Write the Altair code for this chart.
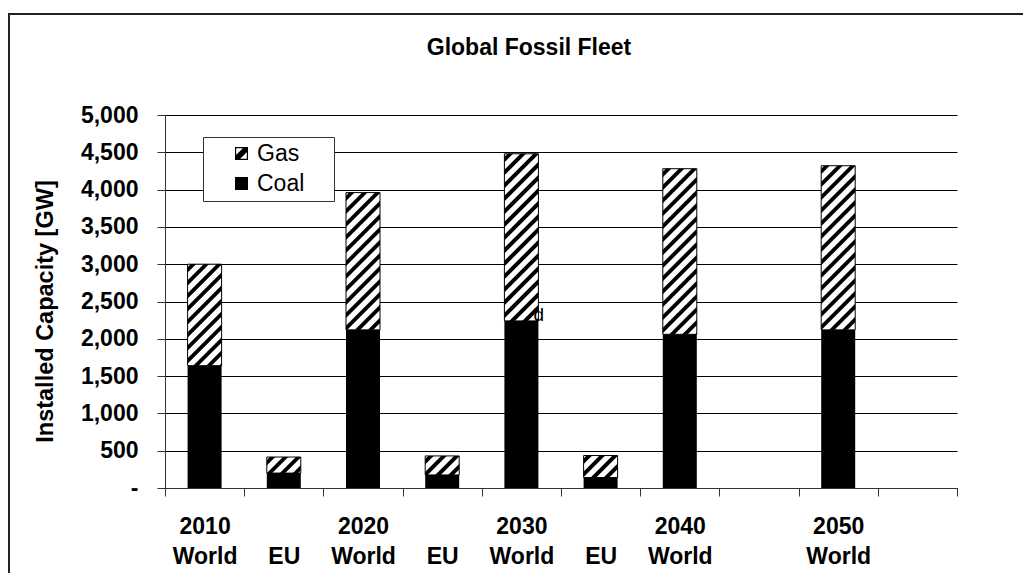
import json
import altair as alt
import pandas as pd

# ---------------- data ----------------
categories = ["2010 World", "2010 EU", "2020 World", "2020 EU", "2030 World",
              "2030 EU", "2040 World", "2040 EU", "2050 World", "2050 EU"]
label_year = ["2010", "", "2020", "", "2030", "", "2040", "", "2050", ""]
label_region = ["World", "EU", "World", "EU", "World", "EU", "World", "", "World", ""]
coal_gw = [1640, 200, 2120, 175, 2240, 140, 2060, None, 2120, None]
gas_gw = [1360, 215, 1840, 255, 2240, 295, 2220, None, 2200, None]
y_ticks = [0, 500, 1000, 1500, 2000, 2500, 3000, 3500, 4000, 4500, 5000]
series = ["Gas", "Coal"]
chart_title = "Global Fossil Fleet"
y_title = "Installed Capacity [GW]"
note_category = "2030 World"
note_text = "d"

# ---------------- layout / style ----------------
FONT = "Liberation Sans"
PLOT_W, PLOT_H = 792, 373
Y_MAX = 5000
BAR_W = 34
PAD = {"left": 157, "top": 107, "right": 66, "bottom": 85}

rows = []
for c, co, g in zip(categories, coal_gw, gas_gw):
    if co is None:
        continue
    rows.append({"cat": c, "coal": co, "gas": g, "total": co + g})
df = pd.DataFrame(rows)


def hatch_gradient(w, h, period=13.0, black=5.5, soft=0.7, phase=3.0):
    """Diagonal '/' stripes drawn as a linear gradient in bounding-box units."""
    L = w + h
    c = L / (w * w + h * h)

    def col_at(s):
        return "black" if ((s - phase) % period) < black else "white"

    stops = [(0.0, col_at(0.0))]
    a = phase
    while a < L:
        for pos, col in [(a - soft, "white"), (a + soft, "black"),
                         (a + black - soft, "black"), (a + black + soft, "white")]:
            if 0 < pos < L:
                stops.append((pos / L, col))
        a += period
    stops.append((1.0, col_at(L)))
    return alt.LinearGradient(
        gradient="linear",
        stops=[alt.GradientStop(color=col, offset=round(off, 5)) for off, col in stops],
        x1=0, y1=0, x2=round(c * w, 6), y2=round(c * h, 6),
    )


x_label_expr = "[{y}[indexof({c}, datum.value)], {r}[indexof({c}, datum.value)]]".format(
    y=json.dumps(label_year), r=json.dumps(label_region), c=json.dumps(categories))

x_axis = alt.Axis(
    title=None, labelExpr=x_label_expr, labelAngle=0, labelOverlap=False,
    labelFont=FONT, labelFontSize=23, labelFontWeight="bold", labelColor="black",
    labelLineHeight=30, labelPadding=19, tickSize=8, tickBand="extent",
    tickColor="#333", domainColor="#333", grid=False,
)
x_enc = alt.X("cat:N", sort=categories,
              scale=alt.Scale(domain=categories, paddingInner=0, paddingOuter=0),
              axis=x_axis)

y_axis = alt.Axis(
    values=y_ticks,
    labelExpr="datum.value == 0 ? '-' : format(datum.value, ',')",
    labelFont=FONT, labelFontSize=23, labelFontWeight="bold", labelColor="black",
    labelPadding=19, tickSize=8, tickColor="#333", domainColor="#333",
    grid=True, gridColor="black", gridWidth=1,
    title=y_title, titleFont=FONT, titleFontSize=23.5,
    titleFontWeight="bold", titleColor="black", titleAngle=270,
    titleAlign="center", titleBaseline="alphabetic", titleX=-113, titleY=196,
)
y_scale = alt.Scale(domain=[0, Y_MAX], nice=False, zero=True)


def y_enc(field):
    return alt.Y(field + ":Q", scale=y_scale, axis=y_axis)


layers = []

# coal segments
layers.append(
    alt.Chart(df).mark_bar(color="black", width=BAR_W).encode(
        x=x_enc, y=y_enc("coal"), y2=alt.datum(0)
    )
)

# gas segments (hatched), one layer per bar so each gets its own stripe geometry
for _, r in df.iterrows():
    h = r["gas"] / Y_MAX * PLOT_H
    layers.append(
        alt.Chart(df).transform_filter(alt.datum.cat == r["cat"]).mark_bar(
            fill=hatch_gradient(BAR_W, h), stroke="black", strokeWidth=1, width=BAR_W
        ).encode(x=x_enc, y=y_enc("total"), y2="coal:Q")
    )

# stray label in the reference
layers.append(
    alt.Chart(df).transform_filter(alt.datum.cat == note_category).mark_text(
        text=note_text, align="left", baseline="alphabetic", dx=12,
        font=FONT, fontSize=19, color="black", fill="black"
    ).encode(x=x_enc, y=y_enc("coal"))
)

# legend driver (points placed outside the visible canvas)
gas_symbol = ("M-1,-1L1,-1L1,1L-1,1Z "
              "M-0.82,-0.82L-0.82,0.82L0.82,0.82L0.82,-0.82Z "
              "M-1,1L-1,0.4L0.4,-1L1,-1L1,-0.4L-0.4,1Z")
legend_pad = "\u00a0\u00a0\u2002\u200b"
layers.append(
    alt.Chart(pd.DataFrame({"series": series})).mark_point(
        filled=True, fill="black", opacity=1, size=169
    ).encode(
        x=alt.value(-3000), y=alt.value(-3000),
        shape=alt.Shape(
            "series:N",
            scale=alt.Scale(domain=series, range=[gas_symbol, "square"]),
            legend=alt.Legend(
                title=None, orient="none", legendX=38, legendY=22,
                fillColor="white", strokeColor="#333", padding=5,
                symbolOffset=22, symbolSize=169, symbolFillColor="black",
                symbolOpacity=1,
                labelFont=FONT, labelFontSize=23, labelColor="black",
                labelOffset=4, rowPadding=6,
                labelExpr="datum.label + '" + legend_pad + "'",
            ),
        ),
    )
)

# chart title
layers.append(
    alt.Chart(pd.DataFrame({"t": [chart_title]})).mark_text(
        align="center", baseline="alphabetic", font=FONT, fontSize=23,
        fontWeight="bold", color="black"
    ).encode(text="t:N", x=alt.value(364), y=alt.value(-60))
)

# outer frame (top and left edges visible in the reference)
one = pd.DataFrame({"k": [0]})
layers.append(
    alt.Chart(one).mark_rule(color="#222", strokeWidth=2).encode(
        x=alt.value(-156), y=alt.value(-101), y2=alt.value(458)
    )
)
layers.append(
    alt.Chart(one).mark_rule(color="#222", strokeWidth=2).encode(
        x=alt.value(-157), x2=alt.value(858), y=alt.value(-101)
    )
)

chart = alt.layer(*layers).properties(
    width=PLOT_W, height=PLOT_H,
    autosize=alt.AutoSizeParams(type="none"),
    padding=PAD,
).configure(font=FONT).configure_view(stroke=None)

chart.save("out.html", embed_options={"renderer": "svg", "actions": False})
